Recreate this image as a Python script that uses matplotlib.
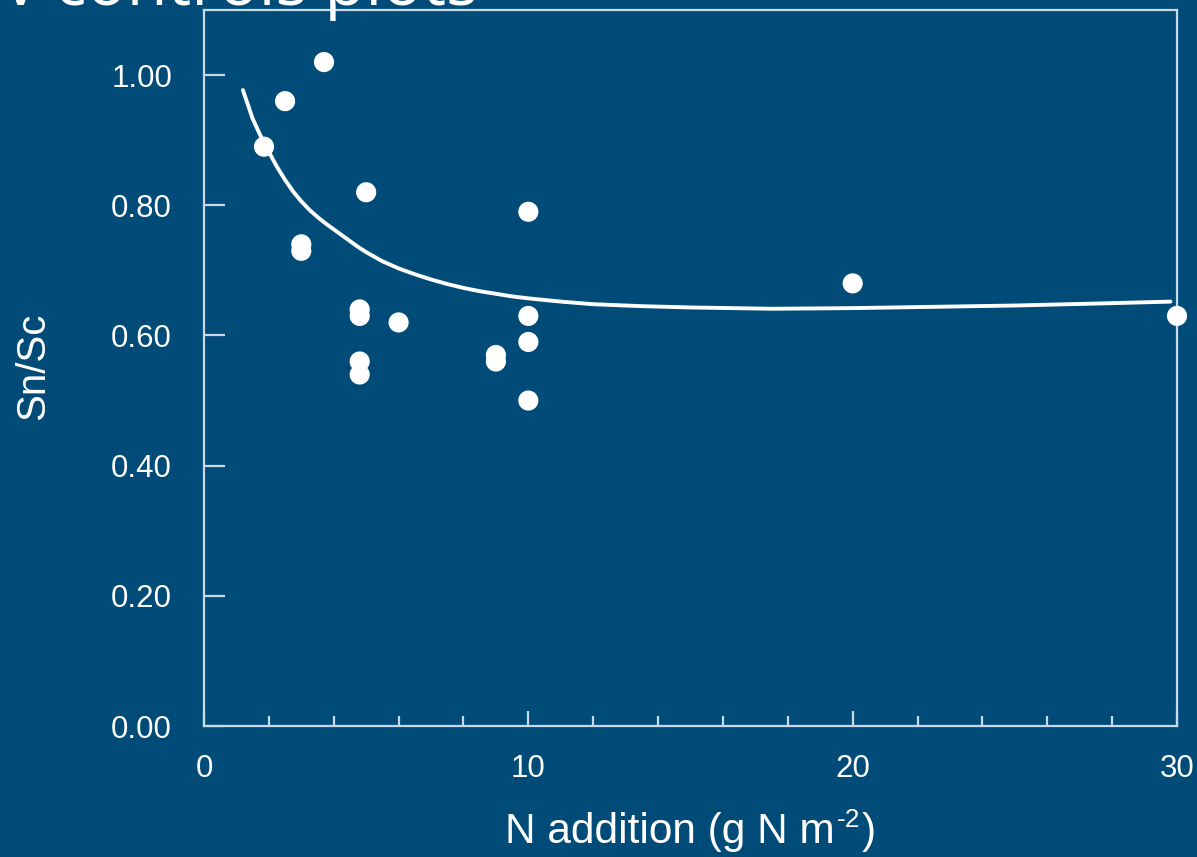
import matplotlib
matplotlib.use("Agg")
import matplotlib.pyplot as plt
from matplotlib.ticker import MultipleLocator, FixedLocator

# Data
n_add = [1.85, 2.5, 3.7, 3.0, 3.0, 5.0, 4.8, 4.8, 4.8, 4.8, 6.0, 9.0, 9.0,
         10.0, 10.0, 10.0, 10.0, 20.0, 30.0]
ratio = [0.89, 0.96, 1.02, 0.74, 0.73, 0.82, 0.64, 0.63, 0.56, 0.54, 0.62,
         0.57, 0.56, 0.79, 0.63, 0.59, 0.50, 0.68, 0.63]

fit_x = [1.2, 1.35, 1.5, 1.75, 2.0, 2.25, 2.5, 2.75, 3.0, 3.25, 3.5, 3.75,
         4.0, 4.25, 4.5, 4.75, 5.0, 5.5, 6.0, 6.5, 7.0, 7.5, 8.0, 8.5, 9.0,
         9.5, 10.0, 11.0, 12.0, 13.5, 15.0, 17.5, 20.0, 22.5, 25.0, 27.5, 29.8]
fit_y = [0.977, 0.955, 0.933, 0.906, 0.882, 0.859, 0.839, 0.821, 0.806,
         0.793, 0.782, 0.772, 0.763, 0.754, 0.745, 0.736, 0.728, 0.714,
         0.703, 0.694, 0.686, 0.679, 0.673, 0.668, 0.664, 0.660, 0.657,
         0.652, 0.648, 0.645, 0.643, 0.641, 0.642, 0.644, 0.646, 0.649, 0.652]

x_ticks = [0, 10, 20, 30]
y_ticks = [0.00, 0.20, 0.40, 0.60, 0.80, 1.00]
y_tick_labels = ["0.00", "0.20", "0.40", "0.60", "0.80", "1.00"]

BG = "#004B78"
SPINE = "#C8DAE8"

plt.rcParams['font.family'] = ['Liberation Sans', 'DejaVu Sans']

W, H = 1197, 857
fig = plt.figure(figsize=(W / 100, H / 100), dpi=100, facecolor=BG)
ax = fig.add_axes([204 / W, 1 - 726 / H, (1177 - 204) / W, (726 - 10) / H])
ax.set_facecolor(BG)

ax.plot(fit_x, fit_y, color="white", lw=2.8, solid_capstyle="round",
        solid_joinstyle="round", zorder=2)
ax.scatter(n_add, ratio, s=14.5 ** 2, color="white", edgecolors="none",
           zorder=3, clip_on=False)

ax.set_xlim(0, 30)
ax.set_ylim(0, 1.1)
ax.xaxis.set_major_locator(FixedLocator(x_ticks))
ax.xaxis.set_minor_locator(MultipleLocator(2))
ax.yaxis.set_major_locator(FixedLocator(y_ticks))
ax.set_yticklabels(y_tick_labels)

for s in ax.spines.values():
    s.set_color(SPINE)
    s.set_linewidth(1.6)

ax.tick_params(axis="both", which="major", direction="in", length=11,
               width=1.6, color=SPINE, labelcolor="white", labelsize=22.5)
ax.tick_params(axis="x", which="major", pad=20)
ax.tick_params(axis="y", which="major", pad=23, length=15)
ax.tick_params(axis="x", which="minor", direction="in", length=7.5,
               width=1.6, color=SPINE)

# x-axis label built from pieces so the "-2" superscript uses a plain hyphen
t1 = fig.text(505 / W, 1 - 843 / H, "N addition (g N m", color="white",
              fontsize=30.5, ha="left", va="baseline")
fig.canvas.draw()
r = fig.canvas.get_renderer()
bb = t1.get_window_extent(renderer=r)
t2 = fig.text((bb.x1 + 2) / W, 1 - 827 / H, "-2", color="white",
              fontsize=19, ha="left", va="baseline")
bb2 = t2.get_window_extent(renderer=r)
fig.text((bb2.x1 + 2) / W, 1 - 843 / H, ")", color="white",
         fontsize=30.5, ha="left", va="baseline")

fig.text(33 / W, 1 - 366 / H, "Sn/Sc", color="white", fontsize=29,
         rotation=90, ha="center", va="center")

fig.text(478 / W, 1 - 5 / H, "v controls plots", color="white",
         fontsize=48, ha="right", va="baseline", family=["Open Sans", "DejaVu Sans"])

fig.savefig("out.png", dpi=100, facecolor=BG)
